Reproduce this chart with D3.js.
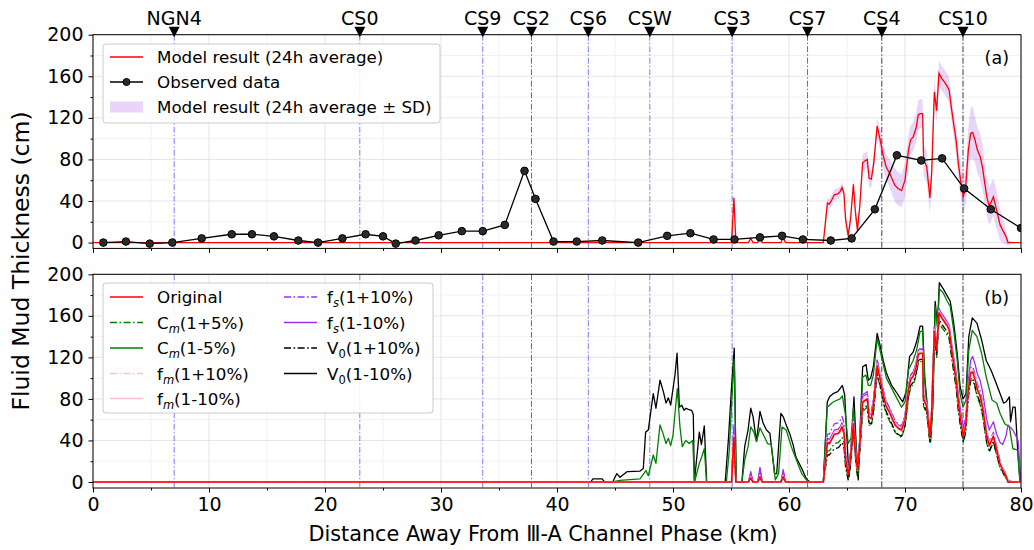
<!DOCTYPE html>
<html><head><meta charset="utf-8">
<script src="https://cdn.jsdelivr.net/npm/d3@7"></script>
<style>body{margin:0;background:#fff}svg{display:block}text{font-family:"DejaVu Sans",sans-serif;fill:#000}</style>
</head><body><svg id="c" width="1034" height="550"></svg>
<script>
// ---------------- DATA ----------------
const stationNames = ["NGN4","CS0","CS9","CS2","CS6","CSW","CS3","CS7","CS4","CS10"];
const stationKm    = [7.0, 23.0, 33.6, 37.8, 42.7, 48.0, 55.1, 61.6, 68.0, 75.0];

const xTicks = [0,10,20,30,40,50,60,70,80];
const yTicks = [0,40,80,120,160,200];

// Observed data (panel a)
const obsKm = [0.89,2.84,4.89,6.84,9.37,11.96,13.7,15.6,17.7,19.4,21.5,23.5,25.0,26.1,27.8,29.8,31.8,33.6,35.5,37.2,38.15,39.7,41.7,43.9,47.0,49.5,51.5,53.5,55.3,57.5,59.4,61.2,63.6,65.4,67.4,69.3,71.4,73.2,75.1,77.4,80.0];
const obsVal = [0,1,-1,0,4,8,8,6,2,0,4,8,6,-1,2,7,11,11,17,69,42,1,1,2,0,6.5,9,3,3,5,6.5,3,2,4,32,84,79,81,52,32,14];

// Shared distance grid for the model runs
const modelKm = [
  0,55.05,55.25,55.42,56.5,56.7,56.9,57.3,57.5,57.7,59.3,59.5,59.7,
  62.96,63.31,63.48,63.68,63.91,64.25,64.4,64.57,64.74,64.88,
  65.1,65.3,65.55,65.72,65.9,66.1,66.35,66.75,66.9,67.1,
  67.3,67.6,67.8,68.14,68.37,68.7,69.14,69.4,69.7,70.0,
  70.3,70.49,70.72,70.95,71.15,71.3,71.52,71.6,71.87,72.15,
  72.3,72.53,72.73,72.93,73.16,73.36,73.6,73.8,73.97,74.17,
  74.4,74.6,74.83,75.03,75.23,75.46,75.66,75.83,76.03,76.24,
  76.47,76.67,76.84,77.05,77.27,77.62,77.9,78.2,78.42,78.7,
  78.88,79.3,79.75,80];
// Model result 24h average (= Original)
const modelAvg = [
  0,0,43,0,0,4,0,0,5,0,0,5,0,
  0,38,37,41,46,47,49,53,47,22,
  7,22,56,30,12,35,77,80,62,61,
  76,112,102,83,73,66,55,52,50,60,
  89,99,102,110,123,124,124,80,73,43,
  67,145,127,163,158,155,151,147,132,116,
  99,76,57,44,54,89,105,106,99,89,
  83,73,60,44,35,44,31,17,12,6,
  0,0,0,0];
const modelSD = [
  0,0,5,0,0,1,0,0,1,0,0,1,0,
  0,5,5,5,5,5,5,5,5,6,
  6,6,6,6,6,6,8,8,8,8,
  8,8,10,12,12,14,16,16,16,16,
  15,14,14,14,14,14,14,15,15,15,
  15,12,12,12,12,12,12,12,12,12,
  14,15,15,15,18,22,25,25,22,22,
  22,22,20,18,18,18,18,15,12,8,
  3,0,0,0];
const cmPlus = [
  0,0,36,0,0,3,0,0,4,0,0,4,0,
  0,30,30,33,37,38,40,43,38,17,
  4,17,48,24,7,28,68,72,55,54,
  68,104,94,76,66,58,48,45,43,53,
  81,91,94,102,115,116,116,73,66,37,
  60,138,120,154,149,146,142,138,124,108,
  91,68,50,38,48,81,97,98,91,81,
  75,65,53,37,29,38,26,13,9,4,
  0,0,0,0];
const fmPlus = [
  0,0,42,0,0,4,0,0,5,0,0,5,0,
  0,37,36,40,45,46,48,52,46,21,
  7,21,55,29,11,34,76,79,61,60,
  75,111,101,82,72,65,54,51,49,59,
  88,98,101,109,122,123,123,79,72,42,
  66,144,126,161,157,154,150,146,131,115,
  98,75,56,43,53,88,104,105,98,88,
  82,72,59,43,34,43,30,16,11,5,
  0,0,0,0];
const fmMinus = [
  0,0,45,0,0,5,0,0,6,0,0,6,0,
  0,39,39,43,48,49,51,55,49,24,
  8,24,58,32,13,37,79,82,64,63,
  78,114,104,85,75,68,57,54,52,62,
  91,101,104,112,125,126,126,82,75,45,
  69,147,129,165,160,157,153,149,134,118,
  101,78,59,46,56,91,107,108,101,91,
  85,75,62,46,37,46,33,19,14,8,
  1,0,0,0];
const fsPlus = [
  0,0,50,0,0,8,0,0,12,0,0,10,0,
  0,46,46,51,56,57,59,63,57,30,
  10,30,62,36,15,42,84,87,69,68,
  82,118,107,88,78,71,59,56,54,64,
  93,103,106,114,127,128,128,84,76,46,
  70,149,131,166,161,158,154,150,135,119,
  102,79,60,47,57,93,110,111,104,94,
  88,78,65,48,39,48,35,20,14,8,
  2,0,0,0];
const fsMinus = [
  0,0,55,0,0,10,0,0,14,0,0,12,0,
  0,42,41,45,50,51,53,57,51,26,
  9,26,60,34,14,39,82,85,66,65,
  80,117,106,87,77,70,58,55,53,63,
  92,103,106,114,127,128,128,84,76,46,
  70,149,131,167,162,159,155,151,137,122,
  106,84,66,52,62,98,117,121,114,104,
  98,88,76,60,50,58,46,38,36,44,
  55,50,40,0];
const v0Plus = [
  0,0,38,0,0,3,0,0,4,0,0,4,0,
  0,26,26,29,32,33,35,38,33,14,
  2,16,50,25,6,30,70,74,57,56,
  70,106,96,78,68,60,49,46,44,54,
  83,93,96,104,117,118,118,75,68,38,
  62,140,122,157,152,149,145,141,126,110,
  93,70,51,39,49,83,99,100,93,83,
  77,67,54,38,30,39,27,14,10,4,
  0,0,0,0];
// Cm(1-5%) : [km, cm]
const cmMinus = [[0,0],[44.8,0],[45.4,1.6],[47.16,3],[47.67,11],[47.87,6],[48.3,26],[48.53,18],[48.88,55],[49.1,48],[49.4,37],[49.6,42],[49.8,35],[50.0,45],[50.37,90],[50.6,53],[50.8,34],[51.1,40],[51.4,37],[51.7,40],[51.86,0],[52.27,18],[52.47,24],[52.7,32],[52.9,0],
  [54.6,0],[54.85,30],[55.05,75],[55.28,118],[55.45,0],[55.94,0],[56.18,21],[56.47,34],[56.7,53],[56.97,48],[57.2,39],[57.5,52],[57.85,44],[58.15,37],[58.47,36],[58.82,2],[59.1,8],[59.4,53],[59.76,50],[60.2,34],[60.65,21],[61.1,8],[61.5,2],[61.7,0],[62.96,0],
  [63.3,72],[63.8,77],[64.4,80],[64.6,83],[64.85,66],[65.1,37],[65.35,42],[65.55,72],[65.77,37],[65.97,7],[66.17,53],[66.35,101],[66.64,103],[66.84,93],[67.04,93],[67.27,103],[67.6,138],[67.84,127],[68.4,100],[69.0,87],[69.7,72],[70.0,77],[70.3,108],[70.7,117],[71.0,127],[71.3,145],[71.52,145],[71.7,98],[71.9,72],[72.2,39],[72.4,72],[72.6,169],[72.8,148],[72.96,186],[73.3,182],[73.6,175],[73.9,169],[74.2,146],[74.5,117],[74.75,85],[75.0,72],[75.26,79],[75.5,127],[75.8,146],[76.2,140],[76.6,124],[77.0,101],[77.5,79],[77.9,76],[78.2,66],[78.6,56],[79.0,53],[79.3,32],[79.7,31],[79.9,2],[80,0]];
// V0(1-10%) : [km, cm]
const v0Minus = [[0,0],[42.9,0],[43.1,3],[43.9,3],[44.1,0],[44.8,0],[45.15,8],[45.43,4.5],[46.06,10],[47.16,10.5],[47.44,13],[47.64,48],[47.87,50],[48.1,69],[48.3,85],[48.53,71],[48.88,98],[49.17,87],[49.4,76],[49.6,81],[49.8,74],[50.17,103],[50.35,124],[50.55,72],[50.75,74],[50.95,69],[51.12,71],[51.32,70],[51.6,69],[51.75,65],[51.84,0],[52.27,48],[52.45,36],[52.7,54],[52.9,0],
  [54.5,0],[54.77,40],[55.05,92],[55.28,129],[55.45,0],[55.94,0],[56.18,34],[56.47,50],[56.7,71],[56.9,63],[57.2,39],[57.5,68],[57.76,57],[58.06,50],[58.35,47],[58.76,8],[58.94,8],[59.3,66],[59.5,63],[59.75,55],[60.05,47],[60.35,36],[60.6,24],[61.1,13],[61.5,3],[61.8,0],[62.96,0],
  [63.3,77],[63.5,82],[63.8,85],[64.2,87],[64.4,90],[64.6,93],[64.8,84],[64.97,47],[65.17,5],[65.4,37],[65.6,82],[65.77,40],[65.97,2],[66.1,44],[66.35,111],[66.64,113],[66.84,98],[67.04,100],[67.27,111],[67.6,143],[67.84,132],[68.12,117],[68.4,105],[68.85,93],[69.4,84],[69.8,77],[70.1,87],[70.4,121],[70.7,125],[71.0,135],[71.3,150],[71.52,150],[71.7,101],[71.9,76],[72.2,39],[72.4,76],[72.6,174],[72.8,151],[72.96,192],[73.3,186],[73.6,180],[73.9,174],[74.2,153],[74.5,124],[74.75,92],[75.0,80],[75.26,85],[75.5,140],[75.8,158],[76.2,153],[76.6,137],[77.0,117],[77.4,108],[77.76,98],[78.2,85],[78.5,76],[78.7,77],[79.0,82],[79.1,58],[79.3,72],[79.5,72],[79.7,34],[79.9,2],[80,0]];

const legendA = ["Model result (24h average)","Observed data","Model result (24h average \u00b1 SD)"];
const legendB = [
  {b:"Original",s:"",r:""},{b:"C",s:"m",r:"(1+5%)"},{b:"C",s:"m",r:"(1-5%)"},{b:"f",s:"m",r:"(1+10%)"},{b:"f",s:"m",r:"(1-10%)"},
  {b:"f",s:"s",r:"(1+10%)"},{b:"f",s:"s",r:"(1-10%)"},{b:"V",s:"0",r:"(1+10%)"},{b:"V",s:"0",r:"(1-10%)"}];

// ---------------- LAYOUT / STYLE ----------------
const svg = d3.select("#c");
const X0 = 93, X1 = 1021;
const A = {top:34.7, bottom:248.4}, B = {top:274.3, bottom:488};
const x = d3.scaleLinear().domain([0,80]).range([X0,X1]);
const yA = d3.scaleLinear().domain([-5.6,200]).range([A.bottom,A.top]);
const yB = d3.scaleLinear().domain([-5.8,200]).range([B.bottom,B.top]);
const DD = "7,2.5,1.6,2.5";
const stationStyle = {NGN4:"#7a7aff",CS0:"#7a7aff",CS9:"#7a7aff",CS2:"#5a5aff",CS6:"#7a7aff",CSW:"#7a7aff",CS3:"#7a7aff",CS7:"#5a5aff",CS4:"#3c3c5a",CS10:"#3c3c5a"};
const PURPLE = "#9b30f0";
const TICKFS = 19;

const defs = svg.append("defs");
[["clipA",A],["clipB",B]].forEach(([id,p])=>{
  defs.append("clipPath").attr("id",id).append("rect").attr("x",X0).attr("y",p.top).attr("width",X1-X0).attr("height",p.bottom-p.top);
});

function panel(p, y, showXLabels){
  const g = svg.append("g");
  const xMinor = d3.range(5,80,10), yMinor = d3.range(20,200,40);
  g.selectAll(null).data(xMinor).join("line").attr("x1",d=>x(d)).attr("x2",d=>x(d)).attr("y1",p.top).attr("y2",p.bottom).attr("stroke","#ededed").attr("stroke-width",0.8);
  g.selectAll(null).data(yMinor).join("line").attr("x1",X0).attr("x2",X1).attr("y1",d=>y(d)).attr("y2",d=>y(d)).attr("stroke","#ededed").attr("stroke-width",0.8);
  g.selectAll(null).data(xTicks).join("line").attr("x1",d=>x(d)).attr("x2",d=>x(d)).attr("y1",p.top).attr("y2",p.bottom).attr("stroke","#dedede").attr("stroke-width",0.8);
  g.selectAll(null).data(yTicks).join("line").attr("x1",X0).attr("x2",X1).attr("y1",d=>y(d)).attr("y2",d=>y(d)).attr("stroke","#dedede").attr("stroke-width",0.8);
  g.selectAll(null).data(stationNames).join("line")
    .attr("x1",(d,i)=>x(stationKm[i])).attr("x2",(d,i)=>x(stationKm[i]))
    .attr("y1",p.top).attr("y2",p.bottom)
    .attr("stroke",d=>stationStyle[d]).attr("stroke-width",1)
    .attr("stroke-dasharray","6,2,1.5,2");
  const ax = g.append("g").attr("transform",`translate(0,${p.bottom})`)
    .call(d3.axisBottom(x).tickValues(xTicks).tickSize(4.5).tickPadding(5).tickFormat(showXLabels?d3.format("d"):()=>""));
  const axm = g.append("g").attr("transform",`translate(0,${p.bottom})`)
    .call(d3.axisBottom(x).tickValues(d3.range(5,80,10)).tickSize(2.5).tickFormat(()=>""));
  const ay = g.append("g").attr("transform",`translate(${X0},0)`)
    .call(d3.axisLeft(y).tickValues(yTicks).tickSize(4.5).tickPadding(5).tickFormat(d3.format("d")));
  const aym = g.append("g").attr("transform",`translate(${X0},0)`)
    .call(d3.axisLeft(y).tickValues(yMinor).tickSize(2.5).tickFormat(()=>""));
  [ax,axm,ay,aym].forEach(a=>{a.select(".domain").remove();a.selectAll("line").attr("stroke","#000").attr("stroke-width",1);
    a.selectAll("text").attr("font-size",TICKFS).attr("font-family","DejaVu Sans").attr("fill","#000");});
  return g;
}

// ---------- Panel A ----------
panel(A, yA, false);
const gA = svg.append("g").attr("clip-path","url(#clipA)");
const idx = d3.range(modelKm.length);
gA.append("path").datum(idx)
  .attr("d", d3.area().x(i=>x(modelKm[i])).y0(i=>yA(modelAvg[i]-modelSD[i])).y1(i=>yA(modelAvg[i]+modelSD[i])))
  .attr("fill","#8a2be2").attr("fill-opacity",0.2).attr("stroke","none");
gA.append("path").datum(idx)
  .attr("d", d3.line().x(i=>x(modelKm[i])).y(i=>yA(modelAvg[i])))
  .attr("fill","none").attr("stroke","#ff0000").attr("stroke-width",1.3);
const oIdx = d3.range(obsKm.length);
gA.append("path").datum(oIdx)
  .attr("d", d3.line().x(i=>x(obsKm[i])).y(i=>yA(obsVal[i])))
  .attr("fill","none").attr("stroke","#000").attr("stroke-width",1.3);
gA.selectAll(null).data(oIdx).join("circle")
  .attr("cx",i=>x(obsKm[i])).attr("cy",i=>yA(obsVal[i])).attr("r",3.8)
  .attr("fill","#2a2a2a").attr("stroke","#000").attr("stroke-width",1);
svg.append("rect").attr("x",X0).attr("y",A.top).attr("width",X1-X0).attr("height",A.bottom-A.top).attr("fill","none").attr("stroke","#000").attr("stroke-width",1);

const st = svg.append("g");
st.selectAll(null).data(stationNames).join("path")
  .attr("d",(d,i)=>{const cx=x(stationKm[i]);return `M${cx-5.5},${A.top-8}L${cx+5.5},${A.top-8}L${cx},${A.top+2.5}Z`;})
  .attr("fill","#000");
st.selectAll(null).data(stationNames).join("text")
  .attr("x",(d,i)=>x(stationKm[i])).attr("y",A.top-9.5).attr("text-anchor","middle").attr("font-size",19).text(d=>d);
svg.append("text").attr("x",1009).attr("y",64).attr("text-anchor","end").attr("font-size",17.5).text("(a)");

const lA = svg.append("g");
lA.append("rect").attr("x",103).attr("y",44).attr("width",337).attr("height",79).attr("rx",3)
  .attr("fill","#fff").attr("fill-opacity",0.85).attr("stroke","#cccccc");
const rowsA = [57, 82, 107];
lA.append("line").attr("x1",110).attr("x2",143).attr("y1",rowsA[0]).attr("y2",rowsA[0]).attr("stroke","#ff0000").attr("stroke-width",1.5);
lA.append("line").attr("x1",110).attr("x2",143).attr("y1",rowsA[1]).attr("y2",rowsA[1]).attr("stroke","#000").attr("stroke-width",1.3);
lA.append("circle").attr("cx",126.5).attr("cy",rowsA[1]).attr("r",3.5).attr("fill","#2a2a2a").attr("stroke","#000");
lA.append("rect").attr("x",110).attr("y",rowsA[2]-5.5).attr("width",33).attr("height",11).attr("fill","#8a2be2").attr("fill-opacity",0.2);
lA.selectAll(null).data(legendA).join("text").attr("x",157).attr("y",(d,i)=>rowsA[i]+6).attr("font-size",16.7).text(d=>d);

// ---------- Panel B ----------
panel(B, yB, true);
const gB = svg.append("g").attr("clip-path","url(#clipB)");
const lineIdx = (arr)=>d3.line().x(i=>x(modelKm[i])).y(i=>yB(arr[i]));
const linePair = d3.line().x(d=>x(d[0])).y(d=>yB(d[1]));
const seriesB = [
  {kind:"pair", data:v0Minus, color:"#000", dash:null},
  {kind:"pair", data:cmMinus, color:"#008000", dash:null},
  {kind:"idx", data:fsMinus, color:PURPLE, dash:null},
  {kind:"idx", data:fsPlus, color:PURPLE, dash:DD},
  {kind:"idx", data:cmPlus, color:"#008000", dash:DD},
  {kind:"idx", data:v0Plus, color:"#000", dash:DD},
  {kind:"idx", data:fmMinus, color:"#ffc0cb", dash:null},
  {kind:"idx", data:fmPlus, color:"#ffc0cb", dash:DD},
  {kind:"idx", data:modelAvg, color:"#ff0000", dash:null, w:1.6}
];
seriesB.forEach(s=>{
  const p = gB.append("path").attr("fill","none").attr("stroke",s.color).attr("stroke-width",s.w||1.3)
    .attr("stroke-linejoin","round");
  if (s.kind==="pair") p.datum(s.data).attr("d",linePair);
  else p.datum(idx).attr("d",lineIdx(s.data));
  if (s.dash) p.attr("stroke-dasharray",s.dash);
});
svg.append("rect").attr("x",X0).attr("y",B.top).attr("width",X1-X0).attr("height",B.bottom-B.top).attr("fill","none").attr("stroke","#000").attr("stroke-width",1);
svg.append("text").attr("x",1009).attr("y",304).attr("text-anchor","end").attr("font-size",17.5).text("(b)");

const lB = svg.append("g");
lB.append("rect").attr("x",103).attr("y",283).attr("width",330).attr("height",130).attr("rx",3)
  .attr("fill","#fff").attr("fill-opacity",0.85).attr("stroke","#cccccc");
const legStyles = [["#ff0000",null],["#008000",DD],["#008000",null],["#ffc0cb",DD],["#ffc0cb",null],[PURPLE,DD],[PURPLE,null],["#000",DD],["#000",null]];
const rowsB = [297, 322.5, 348, 373.5, 398.5];
legendB.forEach((lab,i)=>{
  const col = i<5?0:1, row = i<5?i:i-5;
  const lx = col===0?110:284, tx = col===0?157:327, yy = rowsB[row];
  const ln = lB.append("line").attr("x1",lx).attr("x2",lx+33).attr("y1",yy).attr("y2",yy)
    .attr("stroke",legStyles[i][0]).attr("stroke-width",1.5);
  if (legStyles[i][1]) ln.attr("stroke-dasharray",legStyles[i][1]);
  const t = lB.append("text").attr("x",tx).attr("y",yy+6).attr("font-size",16.7);
  t.append("tspan").text(lab.b);
  if (lab.s){
    t.append("tspan").attr("font-size",11.5).attr("dy",4).attr("font-style",lab.s==="0"?"normal":"italic").text(lab.s);
    t.append("tspan").attr("dy",-4).text(lab.r);
  }
});

svg.append("text").attr("transform","translate(29,261) rotate(-90)").attr("text-anchor","middle").attr("font-size",23.5).text("Fluid Mud Thickness (cm)");
svg.append("text").attr("x",543).attr("y",541).attr("text-anchor","middle").attr("font-size",20.8).text("Distance Away From \u2162-A Channel Phase (km)");
</script></body></html>
